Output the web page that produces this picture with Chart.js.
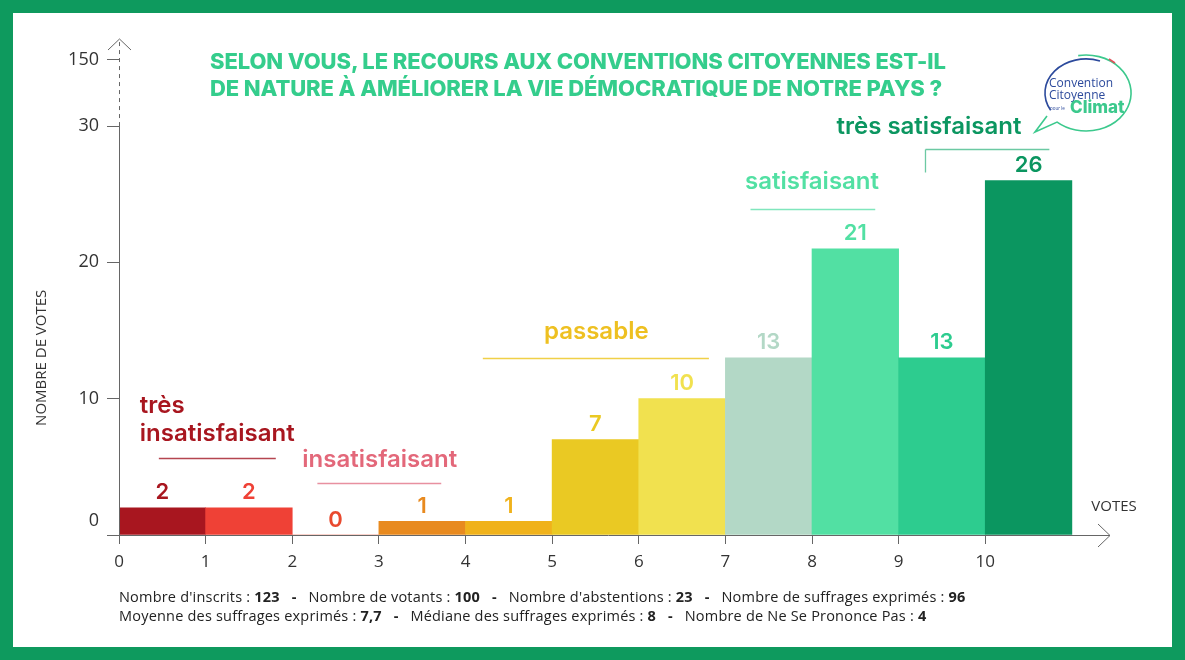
<!DOCTYPE html>
<html>
<head>
<meta charset="utf-8">
<script src="https://cdn.jsdelivr.net/npm/chart.js@4.4.1/dist/chart.umd.min.js"></script>
<style>
    html, body { margin: 0; padding: 0; }
    body { width: 1185px; height: 660px; background: #0e9a5e; position: relative; overflow: hidden; }
    #frame { position: absolute; left: 13px; top: 13px; width: 1159px; height: 634px; background: #fff; }
    #cv { position: absolute; left: 0; top: 0; }
    #title { position: absolute; left: 210px; top: 48px; color: #34cd8c; font-family: 'Inter', sans-serif; font-weight: 800;
             font-size: 22px; line-height: 27px; letter-spacing: -0.1px; white-space: nowrap; }
    #foot { position: absolute; left: 119px; top: 587px; font-family: 'Open Sans', sans-serif; font-size: 14.5px;
            line-height: 19px; color: #222; white-space: nowrap; letter-spacing: 0.2px; }
    #foot b { font-weight: 700; }
    #logo { position: absolute; left: 1030px; top: 50px; }
</style>
</head>
<body>
<div id="frame"></div>
<canvas id="cv" width="1185" height="660"></canvas>
<div id="title">SELON VOUS, LE RECOURS AUX CONVENTIONS CITOYENNES EST-IL<br>DE NATURE À AMÉLIORER LA VIE DÉMOCRATIQUE DE NOTRE PAYS ?</div>
<div id="foot"></div>
<svg id="logo" width="115" height="95" viewBox="0 0 115 95">
    <path d="M 48.2 5.6 A 45 38 0 1 1 27.1 72.1 L 5 82 L 17 66" fill="none" stroke="#3cc98d" stroke-width="1.6"/>
    <path d="M 70 11 A 41 34 0 0 0 20.5 60" fill="none" stroke="#2c4a9c" stroke-width="1.6"/>
    <path d="M 79 9 L 85 13" fill="none" stroke="#e0505a" stroke-width="1.6"/>
    <text x="19" y="37" font-family="Open Sans" font-size="12" fill="#2c4a9c">Convention</text>
    <text x="19" y="49" font-family="Open Sans" font-size="12" fill="#2c4a9c">Citoyenne</text>
    <text x="20" y="60" font-family="Open Sans" font-size="4.5" fill="#2c4a9c">pour le</text>
    <text x="40" y="63" font-family="Inter" font-weight="800" font-size="17" fill="#3cc98d">Climat</text>
</svg>
<script>
// notes 0..10 and number of votes for each note
var notes = [0, 1, 2, 3, 4, 5, 6, 7, 8, 9, 10];
var votes = [2, 2, 0, 1, 1, 7, 10, 13, 21, 13, 26];
var barColors = ['#a8161f', '#ef4136', '#e94a2f', '#e88a1f', '#f0b21b', '#eac923', '#f1e14f', '#b3d8c6', '#52e0a3', '#2dcc8f', '#0b9660'];

var xTicks = [0, 1, 2, 3, 4, 5, 6, 7, 8, 9, 10];
var yTicks = [0, 10, 20, 30, 150];
var yTickLabels = ['0', '10', '20', '30', '150'];

var footLabels = ["Nombre d'inscrits", 'Nombre de votants', "Nombre d'abstentions", 'Nombre de suffrages exprimés',
                  'Moyenne des suffrages exprimés', 'Médiane des suffrages exprimés', 'Nombre de Ne Se Prononce Pas'];
var footValues = ['123', '100', '23', '96', '7,7', '8', '4'];

// axis is broken above 30: 30 -> 150 squeezed into a short dashed part
var yBreak = 30;
function yPos(v) {
    return v <= yBreak ? v : yBreak + (v - yBreak) * 4.85 / 120;
}

var groups = [
    {text: ['très', 'insatisfaisant'], color: '#a8161f', line: '#b54550', x: 0.24, y: 9.5, align: 'left', ul: [0.46, 1.81, 5.65]},
    {text: ['insatisfaisant'], color: '#e3687a', line: '#e890a0', x: 3.01, y: 5.5, align: 'center', ul: [2.29, 3.72, 3.8]},
    {text: ['passable'], color: '#eec021', line: '#f0d048', x: 5.51, y: 14.9, align: 'center', ul: [4.2, 6.81, 13.0]},
    {text: ['satisfaisant'], color: '#52e0a3', line: '#80e6bd', x: 8.0, y: 25.9, align: 'center', ul: [7.29, 8.73, 23.9]},
    {text: ['très satisfaisant'], color: '#0b9660', line: '#6cc9a3', x: 9.35, y: 29.93, align: 'center', ul: [9.31, 10.74, 28.3], bracket: 26.6}
];

var html = '';
footLabels.forEach(function (l, i) {
    html += l + ' : <b>' + footValues[i] + '</b>';
    if (i == 3) html += '<br>';
    else if (i < footLabels.length - 1) html += '&nbsp;&nbsp; <b>-</b> &nbsp;&nbsp;';
});
document.getElementById('foot').innerHTML = html;

var decor = {
    id: 'decor',
    afterDatasetsDraw: function (chart) {
        var ctx = chart.ctx;
        var xs = chart.scales.x, ys = chart.scales.y;
        var x0 = xs.getPixelForValue(0), y0 = ys.getPixelForValue(0);
        var y30 = ys.getPixelForValue(yBreak), top = chart.chartArea.top;
        var right = chart.chartArea.right;
        ctx.save();
        ctx.strokeStyle = '#666';
        ctx.lineWidth = 1;
        // y axis: solid then dashed
        ctx.beginPath();
        ctx.moveTo(x0 + 0.5, y0 + 8);
        ctx.lineTo(x0 + 0.5, y30);
        ctx.stroke();
        ctx.setLineDash([4, 4]);
        ctx.beginPath();
        ctx.moveTo(x0 + 0.5, y30);
        ctx.lineTo(x0 + 0.5, top + 3);
        ctx.stroke();
        ctx.setLineDash([]);
        ctx.beginPath();
        ctx.moveTo(x0 - 11, top + 12);
        ctx.lineTo(x0 + 0.5, top + 1);
        ctx.lineTo(x0 + 12, top + 12);
        ctx.stroke();
        // x axis with arrow
        ctx.beginPath();
        ctx.moveTo(x0 - 12, y0 + 0.5);
        ctx.lineTo(right, y0 + 0.5);
        ctx.moveTo(right - 12, y0 - 11);
        ctx.lineTo(right, y0 + 0.5);
        ctx.lineTo(right - 12, y0 + 12);
        ctx.stroke();

        // axis titles
        ctx.fillStyle = '#333';
        ctx.font = '15px "Open Sans"';
        ctx.textAlign = 'center';
        ctx.textBaseline = 'middle';
        ctx.fillText('VOTES', right + 4, y0 - 28);
        ctx.translate(42, ys.getPixelForValue(13));
        ctx.rotate(-Math.PI / 2);
        ctx.fillText('NOMBRE DE VOTES', 0, 0);
        ctx.setTransform(1, 0, 0, 1, 0, 0);

        // value labels above the bars
        var meta = chart.getDatasetMeta(0);
        ctx.font = '600 22px "Inter"';
        meta.data.forEach(function (bar, i) {
            ctx.fillStyle = barColors[i];
            ctx.fillText(String(votes[i]), bar.x, bar.y - 15);
        });

        // quality groups
        groups.forEach(function (g) {
            ctx.fillStyle = g.color;
            ctx.font = '600 24px "Inter"';
            ctx.textAlign = g.align;
            var gx = xs.getPixelForValue(g.x), gy = ys.getPixelForValue(g.y);
            g.text.forEach(function (t, k) {
                ctx.fillText(t, gx, gy + k * 28);
            });
            ctx.strokeStyle = g.line;
            ctx.lineWidth = 1.3;
            var uy = Math.round(ys.getPixelForValue(g.ul[2])) + 0.5;
            ctx.beginPath();
            ctx.moveTo(xs.getPixelForValue(g.ul[0]), uy);
            ctx.lineTo(xs.getPixelForValue(g.ul[1]), uy);
            if (g.bracket) {
                ctx.moveTo(xs.getPixelForValue(g.ul[0]), uy);
                ctx.lineTo(xs.getPixelForValue(g.ul[0]), ys.getPixelForValue(g.bracket));
            }
            ctx.stroke();
        });
        ctx.restore();
    }
};

new Chart(document.getElementById('cv'), {
    type: 'bar',
    data: {
        datasets: [{
            data: notes.map(function (n, i) { return {x: n + 0.5, y: votes[i]}; }),
            backgroundColor: barColors,
            borderWidth: 0,
            barPercentage: 1,
            categoryPercentage: 1
        }]
    },
    options: {
        responsive: false,
        animation: false,
        layout: { padding: { left: 0, top: 38, right: 75, bottom: 0 } },
        plugins: {
            legend: { display: false },
            tooltip: { enabled: false }
        },
        scales: {
            x: {
                type: 'linear',
                min: 0,
                max: 11.44,
                offset: false,
                afterBuildTicks: function (s) { s.ticks = xTicks.map(function (v) { return {value: v}; }); },
                afterFit: function (s) { s.height = 125; },
                border: { display: false },
                grid: { offset: false, drawOnChartArea: false, drawTicks: true, tickLength: 9, color: '#666' },
                ticks: {
                    padding: 8,
                    color: '#333',
                    autoSkip: false,
                    maxRotation: 0,
                    font: { family: 'Open Sans', size: 17 },
                    callback: function (v, i) { return String(xTicks[i]); }
                }
            },
            y: {
                min: 0,
                max: 36.46,
                afterBuildTicks: function (s) { s.ticks = yTicks.map(function (v) { return {value: yPos(v)}; }); },
                afterFit: function (s) { s.width = 119; },
                border: { display: false },
                grid: { drawOnChartArea: false, drawTicks: true, tickLength: 12, color: '#666' },
                ticks: {
                    padding: 8,
                    color: '#333',
                    font: { family: 'Open Sans', size: 18, lineHeight: 1.6 },
                    callback: function (v, i) { return i === 0 ? [yTickLabels[i], ''] : yTickLabels[i]; }
                }
            }
        }
    },
    plugins: [decor]
});
</script>
</body>
</html>
